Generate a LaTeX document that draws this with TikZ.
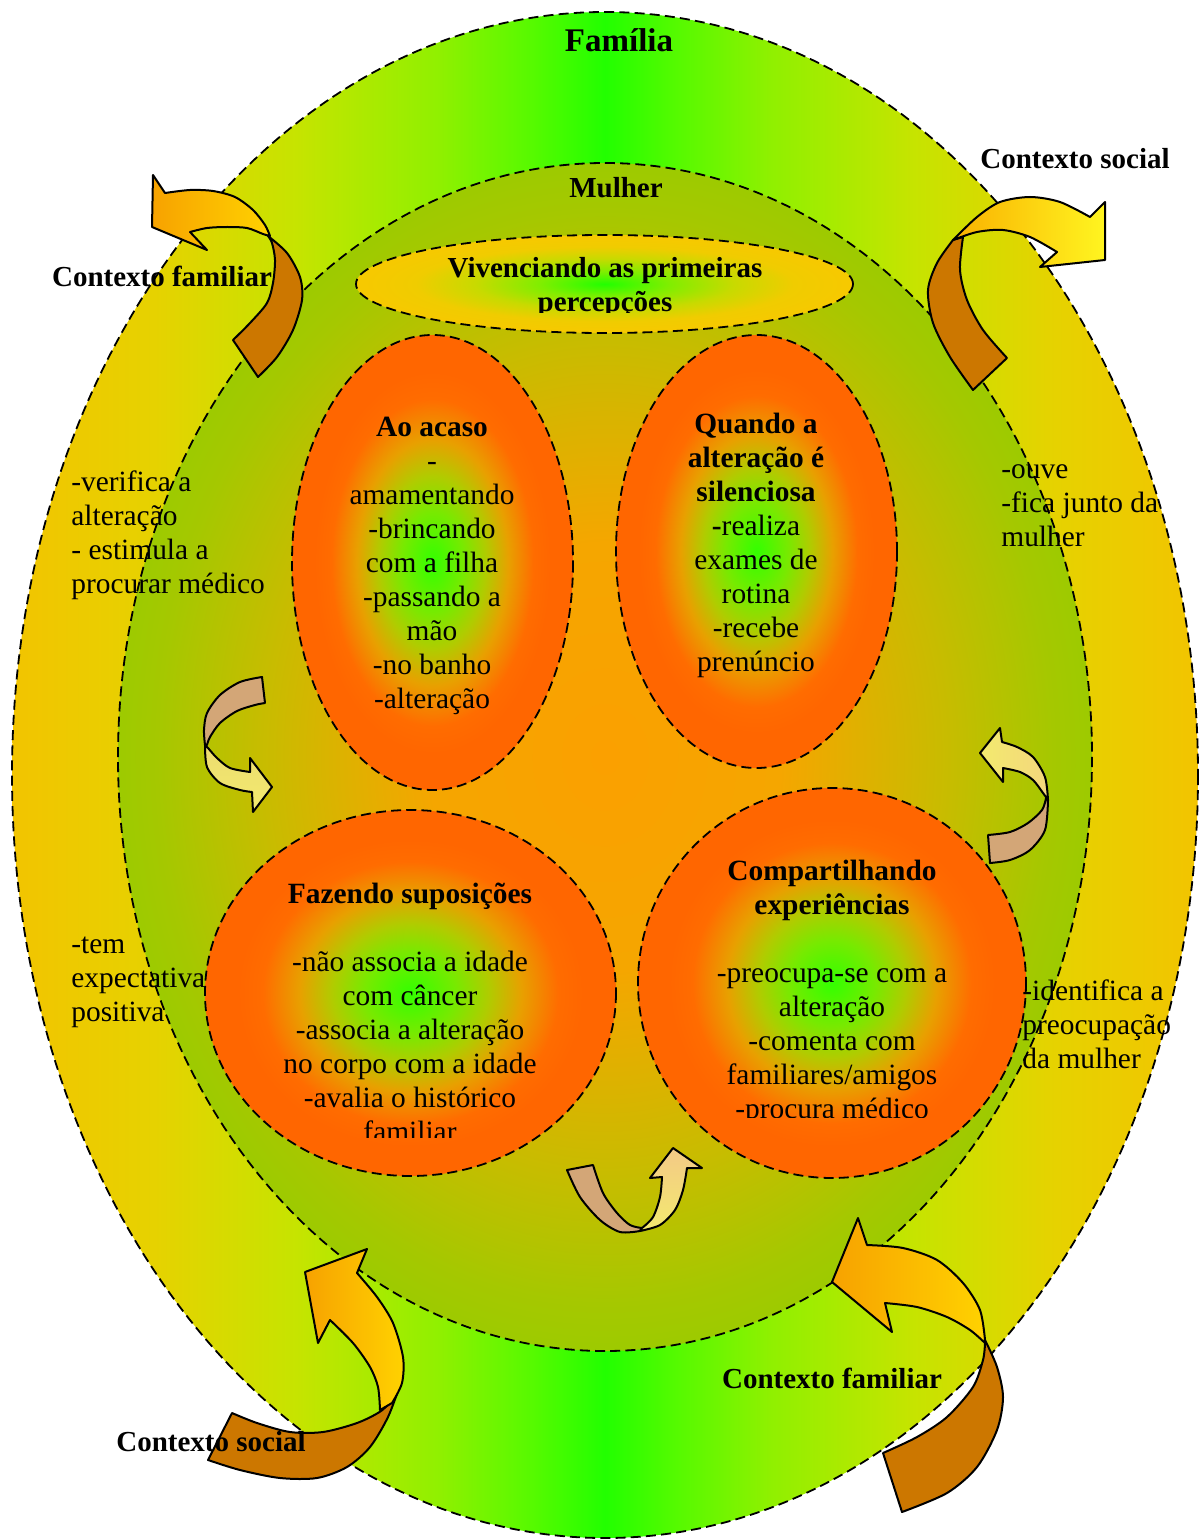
\documentclass[tikz,border=0pt]{standalone}
\usepackage{fontspec}
\setmainfont{Liberation Serif}

% colours of the rings and ovals
\definecolor{famY}{HTML}{F2C400}
\definecolor{famY2}{HTML}{E6D200}
\definecolor{famYG}{HTML}{C6E400}
\definecolor{famLG}{HTML}{90F000}
\definecolor{famLG2}{HTML}{55FA00}
\definecolor{famG}{HTML}{22FF00}
\definecolor{mulOr}{HTML}{FBA000}
\definecolor{mulOr2}{HTML}{F5A600}
\definecolor{mulMid}{HTML}{C8BC00}
\definecolor{mulOl2}{HTML}{A5C800}
\definecolor{mulOl}{HTML}{99CC00}
\definecolor{ovG}{HTML}{33FF00}
\definecolor{ovGY}{HTML}{77EA00}
\definecolor{ovYG}{HTML}{B0CC00}
\definecolor{ovY}{HTML}{E8A000}
\definecolor{ovO}{HTML}{FF6C00}
\definecolor{ovOut}{HTML}{FF6600}
\definecolor{vivG}{HTML}{22FF00}
\definecolor{vivGY}{HTML}{80EE00}
\definecolor{vivYG}{HTML}{C8DA00}
\definecolor{vivY}{HTML}{F0CC00}
\definecolor{vivOut}{HTML}{F8C800}
% colours of the curved arrows
\definecolor{tailbrown}{HTML}{CC7700}
\definecolor{headorange}{HTML}{F7A200}
\definecolor{headyellow}{HTML}{FFD200}
\definecolor{headlemon}{HTML}{FFF520}
\definecolor{tan}{HTML}{D3A677}
\definecolor{paleyellow}{HTML}{F3EA6E}
\definecolor{paleorange}{HTML}{F3C987}

\pgfdeclarehorizontalshading{famshade}{100bp}{color(0bp)=(famY); color(25bp)=(famY);
  color(31bp)=(famY2); color(37bp)=(famYG); color(43bp)=(famLG); color(47bp)=(famLG2);
  color(50bp)=(famG); color(53bp)=(famLG2); color(57bp)=(famLG); color(63bp)=(famYG);
  color(69bp)=(famY2); color(75bp)=(famY); color(100bp)=(famY)}
\pgfdeclareradialshading{mulshade}{\pgfpoint{0bp}{0bp}}{color(0bp)=(mulOr);
  color(9bp)=(mulOr2); color(17.5bp)=(mulMid); color(23bp)=(mulOl2); color(26bp)=(mulOl);
  color(50bp)=(mulOl)}
\pgfdeclareradialshading{ovalshade}{\pgfpoint{0bp}{0bp}}{color(0bp)=(ovG);
  color(5.5bp)=(ovGY); color(9.5bp)=(ovYG); color(13.5bp)=(ovY); color(18bp)=(ovO);
  color(21bp)=(ovOut); color(50bp)=(ovOut)}
\pgfdeclareradialshading{vivshade}{\pgfpoint{0bp}{0bp}}{color(0bp)=(vivG);
  color(6.5bp)=(vivGY); color(13bp)=(vivYG); color(19bp)=(vivY); color(26bp)=(vivOut);
  color(50bp)=(vivOut)}

\tikzset{
  ring/.style={draw=black, line width=0.9pt, dash pattern=on 5pt off 2.6pt},
  arrowline/.style={draw=black, line width=1pt, line join=round},
  tailpart/.style={arrowline, fill=tailbrown},
  tanpart/.style={arrowline, fill=tan},
  body/.style={font=\fontsize{14.7}{17}\selectfont, inner sep=0pt, align=center},
  title/.style={font=\bfseries\fontsize{14.5}{17}\selectfont, inner sep=0pt},
  famtitle/.style={font=\bfseries\fontsize{16.5}{19}\selectfont, inner sep=0pt},
}

\begin{document}
\begin{tikzpicture}[x=0.5pt, y=-0.5pt]
\useasboundingbox (0,0) rectangle (1199,1540);

% rings and ovals
\path[shade, shading=famshade, ring] (605,775) ellipse [x radius=593, y radius=763];
\path[shade, shading=mulshade, ring] (605,757) ellipse [x radius=487, y radius=594];
\path[shade, shading=vivshade, ring] (604.5,284) ellipse [x radius=248.5, y radius=49];
\path[shade, shading=ovalshade, ring] (432.5,562.5) ellipse [x radius=140.5, y radius=227.5];
\path[shade, shading=ovalshade, ring] (756.5,551.5) ellipse [x radius=140.5, y radius=216.5];
\path[shade, shading=ovalshade, ring] (410.5,993) ellipse [x radius=205.5, y radius=183];
\path[shade, shading=ovalshade, ring] (832,983) ellipse [x radius=194, y radius=195];

% curved arrow, top left
\path[tailpart] plot[smooth] coordinates {(268,236) (287,253) (300,277) (302,300) (293,330) (277,357) (258,377)}
  -- plot[smooth] coordinates {(233,340) (250,323) (267,303) (273,283) (275,260) (272,243) (268,236)} -- cycle;
\path[arrowline, left color=headorange, right color=headyellow]
  plot[smooth] coordinates {(270,236) (265,225) (253,210) (235,197) (213,191) (190,190) (165,193)}
  -- (153,175) -- (152,227) -- (207,250)
  -- plot[smooth] coordinates {(190,232) (207,228) (227,227) (247,228) (263,234) (270,236)} -- cycle;

% curved arrow, top right
\path[tailpart] plot[smooth] coordinates {(953,240) (937,263) (928,290) (933,323) (950,357) (973,390)}
  -- plot[smooth] coordinates {(1007,358) (983,330) (967,300) (960,270) (963,237)} -- cycle;
\path[arrowline, left color=headorange!70!headyellow, right color=headlemon]
  plot[smooth] coordinates {(953,240) (977,217) (1000,202) (1030,197) (1060,202) (1090,217)}
  -- (1105,202) -- (1105,260) -- (1040,267)
  -- plot[smooth] coordinates {(1057,252) (1030,237) (1003,230) (977,232) (953,240)} -- cycle;

% small arrow, left
\path[tanpart] plot[smooth] coordinates {(262,677) (240,682) (220,695) (207,713) (204,730) (205,745)}
  -- plot[smooth] coordinates {(207,745) (210,737) (220,723) (237,711) (255,705) (265,703)} -- cycle;
\path[arrowline, top color=paleyellow!80!tan, bottom color=paleyellow]
  plot[smooth] coordinates {(205,745) (207,767) (220,783) (240,790) (252,792)}
  -- (253,812) -- (272,787) -- (250,758)
  -- plot[smooth] coordinates {(250,772) (230,768) (217,758) (208,748) (205,745)} -- cycle;

% small arrow, right
\path[tanpart] plot[smooth] coordinates {(990,863) (1010,860) (1030,850) (1045,830) (1048,800)}
  -- plot[smooth] coordinates {(1046,798) (1042,810) (1028,823) (1010,832) (988,835)} -- cycle;
\path[arrowline, left color=paleyellow, right color=paleorange!60!paleyellow]
  plot[smooth] coordinates {(1048,800) (1045,777) (1033,757) (1017,747) (1002,742)}
  -- (1000,728) -- (980,753) -- (1003,782)
  -- plot[smooth] coordinates {(1003,768) (1020,772) (1033,780) (1043,793) (1048,800)} -- cycle;

% small arrow, bottom
\path[tanpart] plot[smooth] coordinates {(567,1170) (580,1197) (600,1220) (620,1232) (640,1231)}
  -- plot[smooth] coordinates {(642,1228) (630,1225) (617,1213) (603,1193) (593,1165)} -- cycle;
\path[arrowline, top color=paleorange, bottom color=paleyellow]
  plot[smooth] coordinates {(640,1231) (660,1225) (675,1210) (683,1190) (687,1168)}
  -- (702,1168) -- (673,1148) -- (650,1178)
  -- plot[smooth] coordinates {(662,1177) (660,1197) (653,1217) (642,1228)} -- cycle;

% curved arrow, bottom left
\path[tailpart] plot[smooth] coordinates {(396,1396) (381,1411) (357,1423) (323,1432) (290,1432) (257,1423) (232,1413)}
  -- plot[smooth] coordinates {(208,1460) (240,1470) (280,1478) (317,1478) (347,1467) (370,1447) (388,1417) (400,1385)} -- cycle;
\path[arrowline, left color=headorange, right color=headyellow]
  (357,1273) -- (367,1249) -- (305,1272) -- (318,1343)
  -- plot[smooth] coordinates {(330,1320) (353,1343) (370,1367) (378,1387) (380,1410)}
  -- plot[smooth] coordinates {(392,1403) (402,1383) (403,1357) (393,1323) (377,1297) (357,1273)} -- cycle;

% curved arrow, bottom right
\path[tailpart] plot[smooth] coordinates {(985,1340) (997,1367) (1003,1397) (997,1430) (977,1467) (947,1493) (902,1512)}
  -- plot[smooth] coordinates {(883,1453) (917,1437) (947,1417) (973,1387) (983,1360) (985,1343)} -- cycle;
\path[arrowline, left color=headorange, right color=headyellow]
  (867,1245) -- (858,1218) -- (832,1282) -- (892,1332)
  -- plot[smooth] coordinates {(885,1303) (917,1307) (947,1317) (970,1330) (985,1343)}
  -- plot[smooth] coordinates {(985,1340) (980,1310) (963,1283) (937,1260) (903,1248) (867,1245)} -- cycle;

% ring titles
\node[famtitle] (familia) at (619,40) {Família};
\node[title] (mulher) at (616,188) {Mulher};
\node[title] (ctxsocialA) at (1075,159) {Contexto social};
\node[title] (ctxfamiliarA) at (162,276) {Contexto familiar};
\node[title] (ctxfamiliarB) at (832,1378) {Contexto familiar};
\node[title] (ctxsocialB) at (211,1442) {Contexto social};

% oval contents
\begin{scope}
  \clip (350,225) rectangle (860,313);
  \node[title, align=center] (vivenciando) at (605,287.5) {Vivenciando as primeiras\\percepções};
\end{scope}
\node[body] (acaso) at (432,565.5) {\textbf{Ao acaso}\\-\\amamentando\\-brincando\\com a filha\\-passando a\\mão\\-no banho\\-alteração};
\node[body] (silenciosa) at (756,545) {\textbf{Quando a}\\\textbf{alteração é}\\\textbf{silenciosa}\\\textbf{-}realiza\\exames de\\rotina\\-recebe\\prenúncio};
\begin{scope}
  \clip (200,850) rectangle (620,1137);
  \node[body] (suposicoes) at (410,1012.5) {\textbf{Fazendo suposições}\\[17pt]-não associa a idade\\com câncer\\-associa a alteração\\no corpo com a idade\\-avalia o histórico\\familiar};
\end{scope}
\begin{scope}
  \clip (630,840) rectangle (1030,1117);
  \node[body] (compartilhando) at (832,992) {\textbf{Compartilhando}\\\textbf{experiências}\\[17pt]-preocupa-se com a\\alteração\\-comenta com\\familiares/amigos\\-procura médico};
\end{scope}

% notes in the outer ring
\node[body, align=left, anchor=west] (noteverifica) at (71,535.5) {-verifica a\\alteração\\- estimula a\\procurar médico};
\node[body, align=left, anchor=west] (noteexpect) at (71,982) {-tem\\expectativa\\positiva};
\node[body, align=left, anchor=west] (noteouve) at (1001,506) {-ouve\\-fica junto da\\mulher};
\node[body, align=left, anchor=west] (noteidentifica) at (1022,1024) {-identifica a\\preocupação\\da mulher};
\end{tikzpicture}
\end{document}
